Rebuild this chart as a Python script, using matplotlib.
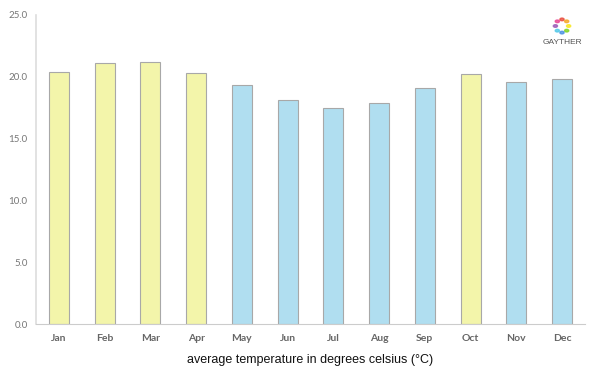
import matplotlib
matplotlib.use("Agg")
import matplotlib.pyplot as plt
import numpy as np

months = ["Jan", "Feb", "Mar", "Apr", "May", "Jun", "Jul", "Aug", "Sep", "Oct", "Nov", "Dec"]
temps = [20.4, 21.1, 21.2, 20.3, 19.3, 18.1, 17.5, 17.9, 19.1, 20.2, 19.6, 19.8]
warm = [True, True, True, True, False, False, False, False, False, True, False, False]
yticks = [0, 5, 10, 15, 20, 25]

fig = plt.figure(figsize=(6, 3.75), dpi=100)
ax = fig.add_axes([0.06, 0.136, 0.915, 0.824])
x = np.arange(len(months))
colors = ["#f3f5aa" if w else "#b0def0" for w in warm]
ax.bar(x, temps, width=0.44, color=colors, edgecolor="#a8a8a8", linewidth=0.8, zorder=2)
ax.set_xlim(-0.5, len(months) - 0.5)
ax.set_ylim(0, 25)
ax.set_yticks(yticks)
ax.set_yticklabels([f"{v:.1f}" for v in yticks], fontsize=7, color="#777777", family="Lato")
ax.set_xticks(x)
ax.set_xticklabels(months, fontsize=7.5, color="#666666", fontweight="bold", family="Lato")
ax.tick_params(axis="both", length=0)
ax.tick_params(axis="x", pad=7)
ax.tick_params(axis="y", pad=6)
for s in ["top", "right"]:
    ax.spines[s].set_visible(False)
ax.spines["left"].set_color("#dddddd")
ax.spines["bottom"].set_color("#cccccc")
ax.spines["left"].set_linewidth(1.2)
ax.set_xlabel("average temperature in degrees celsius (°C)", fontsize=9, color="#111111",
              labelpad=8, family="Liberation Sans")

# logo
lc = ["#e94b3c", "#f5a623", "#f8e71c", "#7ed321", "#4a90e2", "#50c8e8", "#9b59b6", "#e84393"]
cx, cy, r = 562 / 600, 1 - 26 / 375, 0.011
for i, c in enumerate(lc):
    a = np.pi / 2 - i * 2 * np.pi / len(lc)
    fig.patches.append(plt.Circle((cx + r * np.cos(a), cy + r * 1.6 * np.sin(a)), 0.0035,
                                  transform=fig.transFigure, color=c, alpha=0.8))
fig.text(cx, 1 - 42 / 375, "GAYTHER", fontsize=6, color="#555555", ha="center", va="center",
         family="Liberation Sans")

fig.savefig("out.png", dpi=100)
